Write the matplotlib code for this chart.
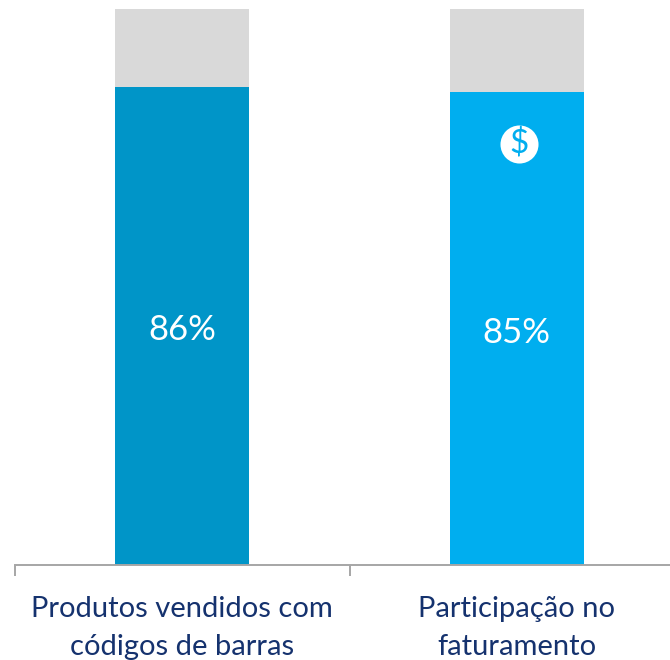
import matplotlib
matplotlib.use("Agg")
import matplotlib.pyplot as plt

# data
categories = ["Produtos vendidos com\ncódigos de barras", "Participação no\nfaturamento"]
values = [86, 85]
rest = [14, 15]
value_labels = ["86%", "85%"]
bar_colors = ["#0095C8", "#00AEEF"]

plt.rcParams['font.family'] = ['Lato', 'DejaVu Sans']

fig = plt.figure(figsize=(6.7, 6.6), dpi=100)
# axes runs past the right edge of the picture, as in the original
ax = fig.add_axes([15 / 670, (660 - 565) / 660, 669 / 670, 556 / 660])

x = [0, 1]
ax.bar(x, values, width=0.4, color=bar_colors)
ax.bar(x, rest, width=0.4, bottom=values, color="#D9D9D9")

ax.set_xlim(-0.5, 1.5)
ax.set_ylim(0, 100)
ax.set_yticks([])
ax.set_xticks([-0.5, 0.5, 1.5])
ax.set_xticklabels([])
ax.tick_params(axis="x", length=8, width=1.4, color="#A6A6A6")
for s in ["top", "left", "right"]:
    ax.spines[s].set_visible(False)
ax.spines["bottom"].set_color("#A6A6A6")
ax.spines["bottom"].set_linewidth(1.4)

# value labels
ax.text(0, 42.3, value_labels[0], color="white", fontsize=25, ha="center", va="center")
ax.text(1, 41.8, value_labels[1], color="white", fontsize=25, ha="center", va="center")

# category labels
for i, cat in enumerate(categories):
    ax.annotate(cat, (i, 0), xytext=(0, -22.5), textcoords="offset points", color="#15326E",
                fontsize=21, ha="center", va="top", linespacing=1.54, annotation_clip=False)

# dollar icon
ax.scatter([1.008], [75.8], s=750, color="white", zorder=3, linewidths=0)
ax.text(1.008, 75.8, "$", color="#00AEEF", fontsize=24, ha="center", va="center", zorder=4)

fig.savefig("out.png", dpi=100)
